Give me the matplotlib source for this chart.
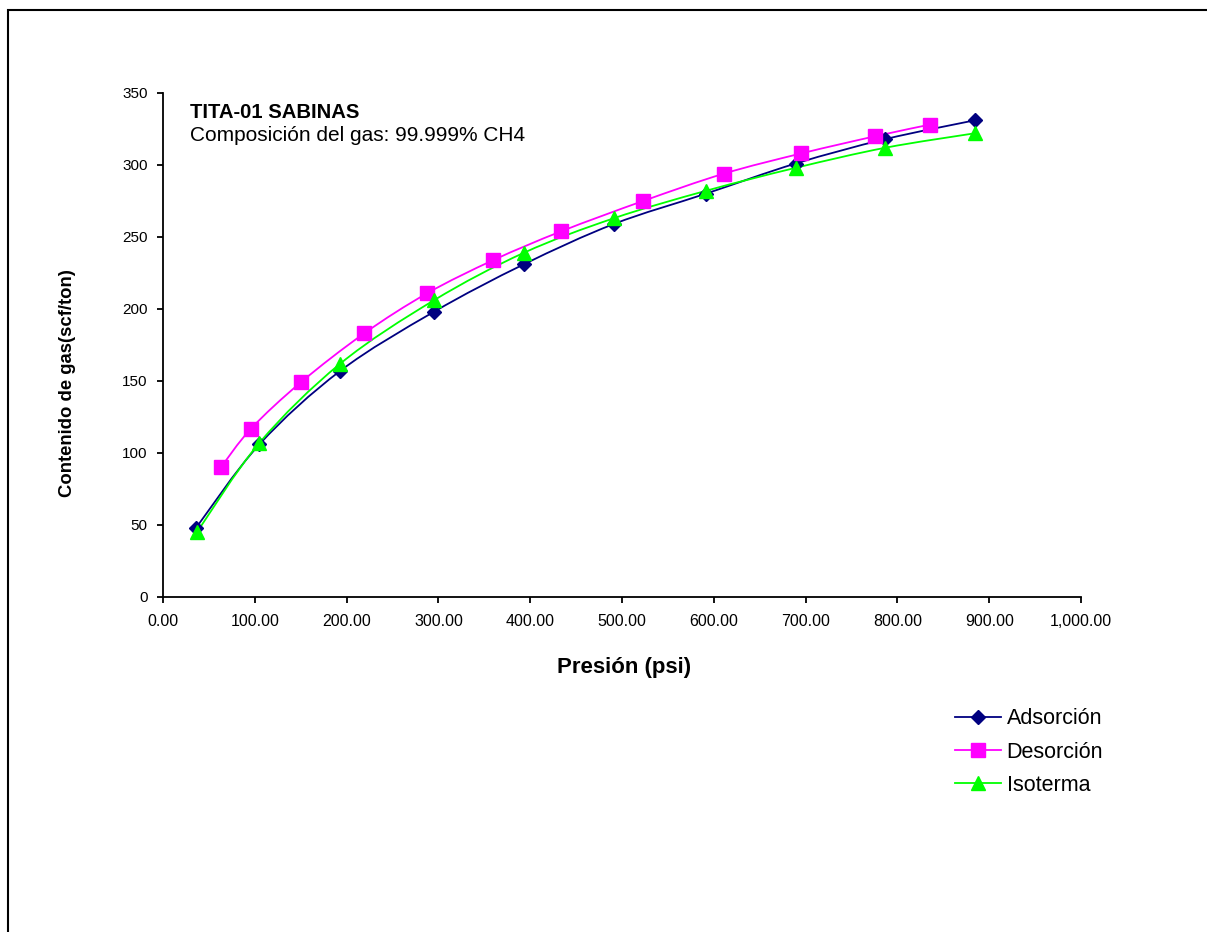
import matplotlib
matplotlib.use("Agg")
import matplotlib.pyplot as plt
from matplotlib.path import Path
from matplotlib.patches import PathPatch, Rectangle
from matplotlib.lines import Line2D
from matplotlib.ticker import FuncFormatter
import numpy as np

plt.rcParams['font.family'] = ['Liberation Sans', 'DejaVu Sans']

# datos
ads_p = [36, 105, 193, 295, 393, 491, 591, 689, 787, 884]
ads_v = [48, 106, 157, 198, 231, 259, 280, 301, 318, 331]
des_p = [63, 96, 150, 219, 288, 360, 434, 523, 611, 695, 776, 835]
des_v = [90, 117, 149, 183, 211, 234, 254, 275, 294, 308, 320, 328]
iso_p = [37, 105, 193, 295, 393, 491, 591, 689, 787, 884]
iso_v = [45, 107, 162, 206, 239, 263, 282, 298, 312, 322]

series = [
    ("Adsorción", ads_p, ads_v, "#000080", "D", 7),
    ("Desorción", des_p, des_v, "#FF00FF", "s", 10),
    ("Isoterma", iso_p, iso_v, "#00FF00", "^", 10),
]


def smooth_path(x, y):
    # curva suavizada tipo excel (bezier catmull-rom)
    pts = np.column_stack([x, y]).astype(float)
    ext = np.vstack([pts[0], pts, pts[-1]])
    verts = [tuple(pts[0])]
    codes = [Path.MOVETO]
    for i in range(1, len(ext) - 2):
        p0, p1, p2, p3 = ext[i - 1], ext[i], ext[i + 1], ext[i + 2]
        c1 = p1 + (p2 - p0) / 6.0
        c2 = p2 - (p3 - p1) / 6.0
        verts += [tuple(c1), tuple(c2), tuple(p2)]
        codes += [Path.CURVE4] * 3
    return Path(verts, codes)


fig = plt.figure(figsize=(12.07, 9.32), dpi=100)
fig.patches.append(Rectangle((8 / 1207, -0.1), 1.2, 1.1 - 10 / 932,
                             transform=fig.transFigure, fill=False,
                             edgecolor="black", linewidth=1.5))

ax = fig.add_axes([163 / 1207, 1 - 597 / 932, (1081 - 163) / 1207, (597 - 93) / 932])

handles = []
for name, xs, ys, col, mk, ms in series:
    ax.add_patch(PathPatch(smooth_path(xs, ys), fill=False, edgecolor=col, linewidth=1.3))
    ax.plot(xs, ys, linestyle="none", marker=mk, markersize=ms, color=col,
            markeredgecolor=col)
    handles.append(Line2D([], [], color=col, linewidth=1.3, marker=mk, markersize=ms))

ax.set_xlim(0, 1000)
ax.set_ylim(0, 350)
ax.set_xticks(np.arange(0, 1001, 100))
ax.set_yticks(np.arange(0, 351, 50))
ax.xaxis.set_major_formatter(FuncFormatter(lambda v, p: "{:,.2f}".format(v)))
ax.spines["top"].set_visible(False)
ax.spines["right"].set_visible(False)
ax.spines["left"].set_linewidth(1.3)
ax.spines["bottom"].set_linewidth(1.3)
ax.tick_params(direction="out", length=4, width=1.3)
ax.tick_params(axis="x", labelsize=11.5, pad=8)
ax.tick_params(axis="y", labelsize=11, pad=7)

fig.text(624 / 1207, 1 - 667 / 932, "Presión (psi)", ha="center", va="center",
         fontsize=16, fontweight="bold")
fig.text(67 / 1207, 1 - 383 / 932, "Contenido de gas(scf/ton)", ha="center", va="center",
         rotation=90, fontsize=13.3, fontweight="bold")
fig.text(190 / 1207, 1 - 117.5 / 932, "TITA-01 SABINAS", fontsize=14.6, fontweight="bold",
         va="baseline")
fig.text(190 / 1207, 1 - 141.5 / 932, "Composición del gas: 99.999% CH4", fontsize=15,
         va="baseline")

fig.legend(handles, [s[0] for s in series], loc="upper left",
           bbox_to_anchor=(936 / 1207, 1 - 689 / 932), frameon=False,
           fontsize=15.5, handlelength=2.1, handletextpad=0.28, labelspacing=0.57)

fig.savefig("out.png", dpi=100)
